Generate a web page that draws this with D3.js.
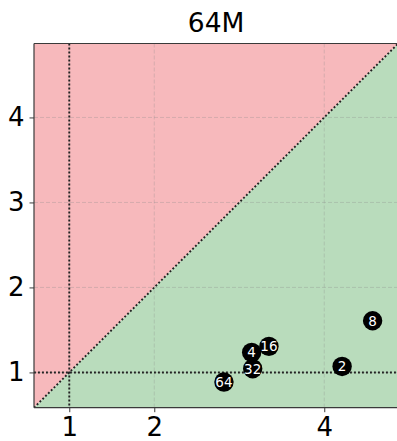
<!DOCTYPE html>
<html>
<head>
<meta charset="utf-8">
<script src="https://cdn.jsdelivr.net/npm/d3@7"></script>
<style>
  html, body { margin: 0; padding: 0; background: #fff; }
  svg { display: block; font-family: "DejaVu Sans", sans-serif; }
</style>
</head>
<body>
<div id="chart"></div>
<script>
// Speedup pairs per thread count for the 64M problem size
const title = "64M";
const threadLabels = ["2", "4", "8", "16", "32", "64"];
const xValues = [4.21, 3.146, 4.569, 3.349, 3.158, 2.82];
const yValues = [1.07, 1.235, 1.608, 1.306, 1.044, 0.887];
const xTicks = [1, 2, 4];
const yTicks = [1, 2, 3, 4];
const axisDomain = [0.585, 4.87];

const W = 397, H = 441;
const plotLeft = 34, plotTop = 43.5, plotSize = 364.2;

const svg = d3.select("#chart").append("svg")
  .attr("width", W).attr("height", H);

const x = d3.scaleLinear().domain(axisDomain).range([plotLeft, plotLeft + plotSize]);
const y = d3.scaleLinear().domain(axisDomain).range([plotTop + plotSize, plotTop]);

const [lo, hi] = axisDomain;

// clip everything to the plot area
svg.append("defs").append("clipPath").attr("id", "plot-clip")
  .append("rect").attr("x", plotLeft).attr("y", plotTop)
  .attr("width", plotSize).attr("height", plotSize);

const plot = svg.append("g").attr("clip-path", "url(#plot-clip)");

// region above the diagonal (y > x)
plot.append("path")
  .attr("d", d3.line()([[x(lo), y(lo)], [x(hi), y(hi)], [x(lo), y(hi)]]) + "Z")
  .attr("fill", "#f7b9bc");
// region below the diagonal (y < x)
plot.append("path")
  .attr("d", d3.line()([[x(lo), y(lo)], [x(hi), y(hi)], [x(hi), y(lo)]]) + "Z")
  .attr("fill", "#b9dcbc");

// grid
plot.selectAll(".gx").data(xTicks).enter().append("line")
  .attr("x1", d => x(d)).attr("x2", d => x(d))
  .attr("y1", plotTop).attr("y2", plotTop + plotSize)
  .attr("stroke", "#8a8a8a").attr("stroke-opacity", 0.35)
  .attr("stroke-width", 0.9).attr("stroke-dasharray", "4,2");
plot.selectAll(".gy").data(yTicks).enter().append("line")
  .attr("y1", d => y(d)).attr("y2", d => y(d))
  .attr("x1", plotLeft).attr("x2", plotLeft + plotSize)
  .attr("stroke", "#8a8a8a").attr("stroke-opacity", 0.35)
  .attr("stroke-width", 0.9).attr("stroke-dasharray", "4,2");

// reference lines: x = 1, y = 1 and the diagonal
const dotted = { stroke: "#222", width: 1.9, dash: "1.9,2.1" };
plot.append("line")
  .attr("x1", x(1)).attr("x2", x(1)).attr("y1", plotTop).attr("y2", plotTop + plotSize)
  .attr("stroke", dotted.stroke).attr("stroke-width", dotted.width).attr("stroke-dasharray", dotted.dash);
plot.append("line")
  .attr("x1", plotLeft).attr("x2", plotLeft + plotSize).attr("y1", y(1)).attr("y2", y(1))
  .attr("stroke", dotted.stroke).attr("stroke-width", dotted.width).attr("stroke-dasharray", dotted.dash);
plot.append("line")
  .attr("x1", x(lo)).attr("y1", y(lo)).attr("x2", x(hi)).attr("y2", y(hi))
  .attr("stroke", dotted.stroke).attr("stroke-width", dotted.width).attr("stroke-dasharray", dotted.dash);

// points
const pts = threadLabels.map((t, i) => ({ label: t, x: xValues[i], y: yValues[i] }));
plot.selectAll("circle.pt").data(pts).enter().append("circle")
  .attr("class", "pt")
  .attr("cx", d => x(d.x)).attr("cy", d => y(d.y)).attr("r", 9.7)
  .attr("fill", "#000");
plot.selectAll("text.pt").data(pts).enter().append("text")
  .attr("class", "pt")
  .attr("x", d => x(d.x)).attr("y", d => y(d.y))
  .attr("text-anchor", "middle").attr("dy", "0.36em")
  .attr("fill", "#fff").attr("font-size", 13.5)
  .text(d => d.label);

// spines (right edge runs past the page)
const spine = { stroke: "#3a3a3a", width: 1.2 };
svg.append("line").attr("x1", plotLeft).attr("x2", plotLeft)
  .attr("y1", plotTop).attr("y2", plotTop + plotSize)
  .attr("stroke", spine.stroke).attr("stroke-width", spine.width);
svg.append("line").attr("x1", plotLeft).attr("x2", plotLeft + plotSize)
  .attr("y1", plotTop + plotSize).attr("y2", plotTop + plotSize)
  .attr("stroke", spine.stroke).attr("stroke-width", spine.width);
svg.append("line").attr("x1", plotLeft).attr("x2", plotLeft + plotSize)
  .attr("y1", plotTop).attr("y2", plotTop)
  .attr("stroke", spine.stroke).attr("stroke-width", spine.width);

// axes
const xAxis = d3.axisBottom(x).tickValues(xTicks).tickSize(4.5).tickPadding(5).tickFormat(d3.format("d"));
const yAxis = d3.axisLeft(y).tickValues(yTicks).tickSize(4.5).tickPadding(5).tickFormat(d3.format("d"));

const gx = svg.append("g").attr("transform", `translate(0,${plotTop + plotSize})`).call(xAxis);
const gy = svg.append("g").attr("transform", `translate(${plotLeft},0)`).call(yAxis);
[gx, gy].forEach(g => {
  g.select(".domain").remove();
  g.selectAll(".tick line").attr("stroke", "#3a3a3a").attr("stroke-width", 1);
  g.selectAll(".tick text").attr("fill", "#000")
    .attr("font-family", "DejaVu Sans, sans-serif").attr("font-size", 26);
});

// title
svg.append("text")
  .attr("x", plotLeft + plotSize / 2).attr("y", 31.5)
  .attr("text-anchor", "middle")
  .attr("font-size", 26.5).attr("fill", "#000")
  .text(title);
</script>
</body>
</html>
